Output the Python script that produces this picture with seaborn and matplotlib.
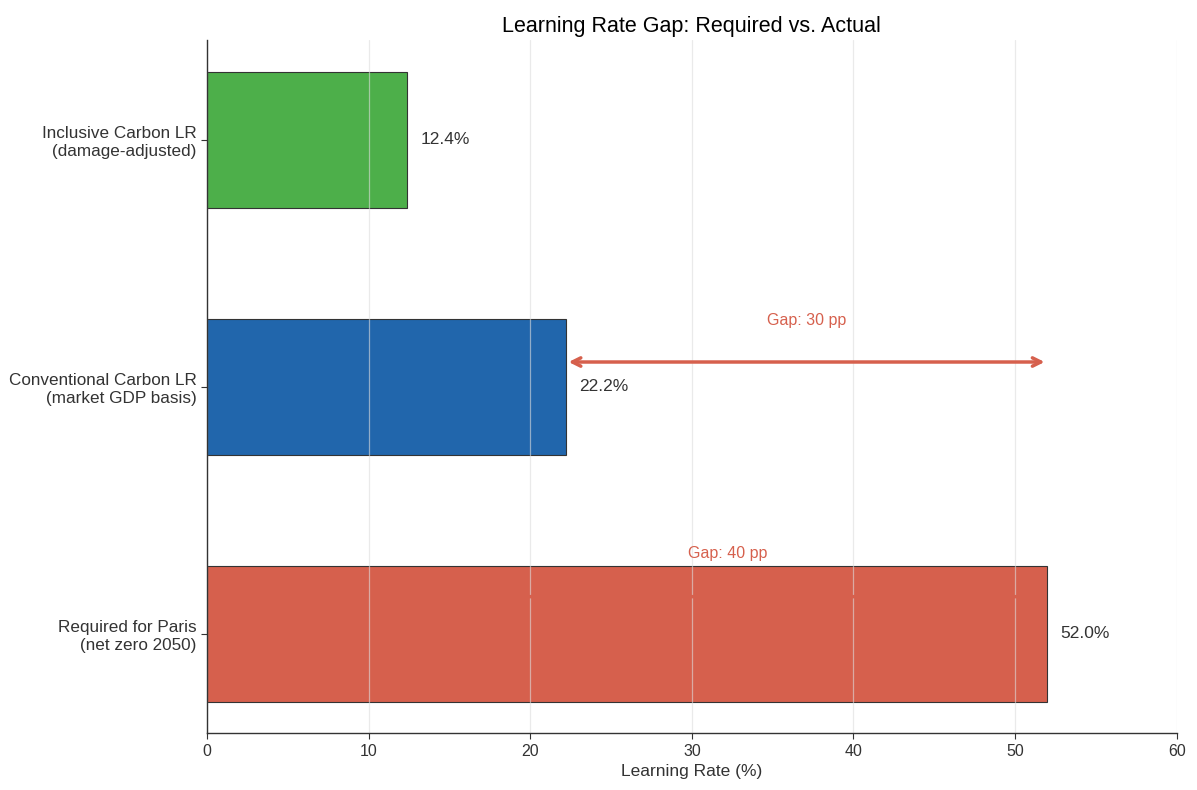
import matplotlib
matplotlib.use("Agg")
import matplotlib.pyplot as plt
import seaborn as sns
import pandas as pd

# Learning rates (%) for each benchmark, top to bottom
categories = [
    "Inclusive Carbon LR\n(damage-adjusted)",
    "Conventional Carbon LR\n(market GDP basis)",
    "Required for Paris\n(net zero 2050)",
]
values = [12.4, 22.2, 52.0]
colors = ["#4daf4a", "#2166ac", "#d6604d"]
x_ticks = [0, 10, 20, 30, 40, 50, 60]

df = pd.DataFrame({"category": categories, "rate": values})

sns.set_style("white")
plt.rcParams["font.family"] = ["Liberation Sans", "DejaVu Sans"]

fig, ax = plt.subplots(figsize=(11.97, 7.9), dpi=100)
fig.subplots_adjust(left=0.173, right=0.983, top=0.949, bottom=0.072)

sns.barplot(
    data=df, x="rate", y="category", hue="category", palette=colors,
    saturation=1, orient="h", width=0.55, edgecolor="#333333", linewidth=0.8,
    legend=False, ax=ax, zorder=2,
)

ax.set_xlim(0, 60)
ax.set_ylim(2.4025, -0.4025)
ax.set_xticks(x_ticks)

# grid drawn on top of the bars, semi-transparent
ax.set_axisbelow(False)
ax.grid(axis="x", color="#dddddd", alpha=0.6, linewidth=0.9, zorder=3)
ax.grid(axis="y", visible=False)

# value labels at the end of each bar
for i, v in enumerate(values):
    ax.text(v + 0.8, i, f"{v:.1f}%", va="center", ha="left",
            fontsize=12.5, color="#333333", zorder=5)

red = "#d6604d"
conv, incl, req = values[1], values[0], values[2]

# gap between conventional and required
ax.annotate("", xy=(req, 0.9), xytext=(conv, 0.9),
            arrowprops=dict(arrowstyle="<->", color=red, lw=2.5,
                            mutation_scale=15), zorder=4)
ax.text((conv + req) / 2, 0.73, f"Gap: {req - conv:.0f} pp",
        ha="center", va="center", color=red, fontsize=11.5, zorder=5)

# gap between inclusive and required
ax.annotate("", xy=(req, 1.85), xytext=(incl, 1.85),
            arrowprops=dict(arrowstyle="<->", color=red, lw=2.5,
                            mutation_scale=15), zorder=4)
ax.text((incl + req) / 2, 1.675, f"Gap: {req - incl:.0f} pp",
        ha="center", va="center", color=red, fontsize=11.5, zorder=5)

ax.set_title("Learning Rate Gap: Required vs. Actual", fontsize=15.5, color="black")
ax.set_xlabel("Learning Rate (%)", fontsize=12.5, color="#333333")
ax.set_ylabel("")

sns.despine(ax=ax)
for side in ("left", "bottom"):
    ax.spines[side].set_color("#333333")
    ax.spines[side].set_linewidth(1.0)
    ax.spines[side].set_zorder(6)
ax.tick_params(axis="x", colors="#333333", labelsize=11.5,
               length=4, width=0.8, bottom=True)
ax.tick_params(axis="y", colors="#333333", labelsize=12.3,
               length=4, width=0.8, left=True)

fig.savefig("out.png", dpi=100)
